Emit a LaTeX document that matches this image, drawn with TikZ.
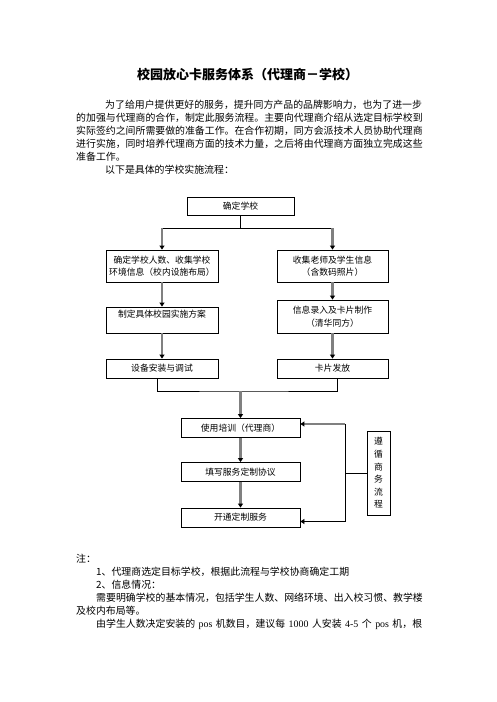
\documentclass[tikz,border=0pt]{standalone}
\usepackage{fontspec}
\setmainfont{Noto Sans CJK SC}
\newfontfamily\latin{Liberation Serif}
\usetikzlibrary{calc, positioning, arrows.meta, shapes}

\newcommand{\bodyfont}{\fontsize{9.9pt}{13pt}\selectfont}
\newcommand{\boxfont}{\fontsize{8.8pt}{12.5pt}\selectfont}

\tikzset{
    stepbox/.style={draw, rectangle, line width=0.8pt, inner sep=0pt, align=center, font=\boxfont},
    flow/.style={draw=black!50, line width=2.2pt, -{Triangle[length=4pt, width=5pt, black]}},
    link/.style={draw=black, line width=0.8pt},
    linkarrow/.style={draw=black, line width=0.8pt, -{Triangle[length=4pt, width=5pt, black]}},
    textline/.style={anchor=base west, inner sep=0pt, font=\bodyfont}
}

\begin{document}
\begin{tikzpicture}[x=1pt, y=-1pt]

        \fill[white] (0,0) rectangle (496,702);
        \useasboundingbox (0,0) rectangle (496,702);

        % title and introduction
        \node[anchor=base, inner sep=0pt, font=\fontsize{13pt}{15pt}\selectfont\bfseries] (title) at (247.5,79) {校园放心卡服务体系（代理商－学校）};

        \node[textline] (p1) at (105,108.3) {为了给用户提供更好的服务，提升同方产品的品牌影响力，也为了进一步};
        \node[textline] (p2) at (76,121.3) {的加强与代理商的合作，制定此服务流程。主要向代理商介绍从选定目标学校到};
        \node[textline] (p3) at (76,134.3) {实际签约之间所需要做的准备工作。在合作初期，同方会派技术人员协助代理商};
        \node[textline] (p4) at (76,147.3) {进行实施，同时培养代理商方面的技术力量，之后将由代理商方面独立完成这些};
        \node[textline] (p5) at (76,160.3) {准备工作。};
        \node[textline] (p6) at (105,173.3) {以下是具体的学校实施流程：};

        % flow chart
        \node[stepbox, minimum width=107pt, minimum height=18pt] (school) at (240.5,206) {确定学校};

        \node[stepbox, minimum width=112pt, minimum height=32pt] (count) at (162,266) {确定学校人数、收集学校\\环境信息（校内设施布局）};
        \node[stepbox, minimum width=111pt, minimum height=32pt] (collect) at (332.5,266) {收集老师及学生信息\\（含数码照片）};

        \node[stepbox, minimum width=112pt, minimum height=26pt, text depth=12pt] (plan) at (162,320) {制定具体校园实施方案};
        \node[stepbox, minimum width=111pt, minimum height=33pt] (entry) at (332.5,316.5) {信息录入及卡片制作\\（清华同方）};

        \node[stepbox, minimum width=112pt, minimum height=19pt] (install) at (162,368.5) {设备安装与调试};
        \node[stepbox, minimum width=111pt, minimum height=19pt] (issue) at (332.5,368.5) {卡片发放};

        \node[stepbox, minimum width=119pt, minimum height=19pt] (train) at (240.5,428) {使用培训（代理商）};
        \node[stepbox, minimum width=119pt, minimum height=19pt] (agree) at (240.5,472) {填写服务定制协议};
        \node[stepbox, minimum width=119pt, minimum height=19pt] (open) at (240.5,517.5) {开通定制服务};

        \node[stepbox, minimum width=23pt, minimum height=84pt, font=\fontsize{8.8pt}{12.6pt}\selectfont] (rule) at (378.5,473) {遵\\循\\商\\务\\流\\程};

        \coordinate (split) at (240.5,228);
        \coordinate (merge) at (240.5,391);
        \coordinate (fbtop) at (345,424);
        \coordinate (fbbot) at (345,521.5);

        \draw[link] (school) -- (split);
        \draw[link] (count.north |- split) -- (collect.north |- split);
        \draw[flow] (count.north |- split) -- (count);
        \draw[flow] (collect.north |- split) -- (collect);

        \draw[flow] (count) -- (plan);
        \draw[flow] (collect) -- (entry);
        \draw[flow] (plan) -- (install);
        \draw[flow] (entry) -- (issue);

        \draw[link] ([xshift=-5pt]install.south) |- (merge) -| ([xshift=4.5pt]issue.south);
        \draw[flow] (merge) -- (train);
        \draw[flow] (train) -- (agree);
        \draw[flow] (agree) -- (open);

        % feedback loop
        \draw[flow] (fbtop) -- (fbtop -| train.east);
        \draw[link] (fbtop) -- (fbbot);
        \draw[linkarrow] (fbbot) -- (fbbot -| open.east);
        \draw[link] (rule.west) -- (rule.west -| fbtop);

        % notes
        \node[textline] (n0) at (76,562.8) {注：};
        \node[textline] (n1) at (96,575.8) {1、代理商选定目标学校，根据此流程与学校协商确定工期};
        \node[textline] (n2) at (96,588.8) {2、信息情况：};
        \node[textline] (n3) at (96,601.8) {需要明确学校的基本情况，包括学生人数、网络环境、出入校习惯、教学楼};
        \node[textline] (n4) at (76,614.8) {及校内布局等。};
        \node[textline] (n5) at (96,627.8) {\makebox[326pt][s]{由学生人数决定安装的 {\latin pos} 机数目，建议每 {\latin 1000} 人安装 {\latin 4-5} 个 {\latin pos} 机，根}};

    \end{tikzpicture}
\end{document}
